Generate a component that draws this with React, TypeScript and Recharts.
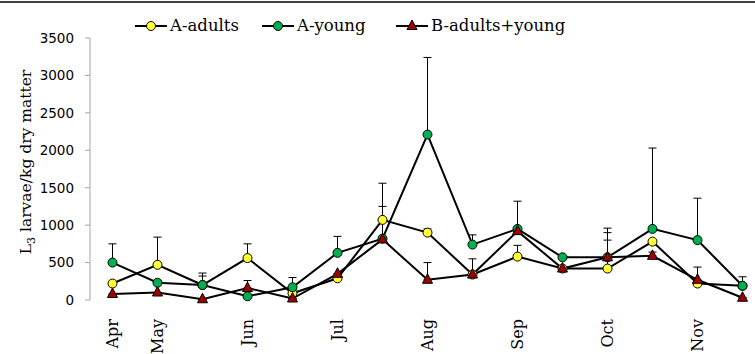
import { LineChart, Line, XAxis, YAxis, ErrorBar } from 'recharts';

const months = ['Apr', 'May', '', 'Jun', '', 'Jul', '', 'Aug', '', 'Sep', '', 'Oct', '', 'Nov', ''];
const aAdults = [220, 470, 200, 560, 90, 290, 1070, 900, 340, 580, 420, 420, 780, 220, 190];
const aYoung = [500, 230, 200, 50, 170, 630, 820, 2210, 740, 950, 570, 570, 950, 800, 190];
const bAll = [80, 100, 10, 160, 20, 350, 810, 270, 340, 920, 420, 570, 590, 270, 30];
const aAdultsErr = [0, 370, 160, 190, 0, 0, 490, 50, 0, 150, 0, 380, 0, 0, 0];
const aYoungErr = [250, 0, 120, 0, 130, 220, 0, 1030, 130, 370, 0, 390, 1080, 560, 120];
const bAllErr = [0, 0, 0, 100, 0, 0, 440, 230, 210, 0, 0, 330, 50, 170, 0];
const yTicks = [0, 500, 1000, 1500, 2000, 2500, 3000, 3500];

const data = months.map((m, i) => ({
  idx: i,
  month: m,
  aAdults: aAdults[i],
  aYoung: aYoung[i],
  bAll: bAll[i],
  aAdultsErr: [0, aAdultsErr[i]],
  aYoungErr: [0, aYoungErr[i]],
  bAllErr: [0, bAllErr[i]],
}));

const boundaryTicks = months.slice(1).map((_, i) => i + 0.5);
const labelTicks = months.map((m, i) => (m ? i : -1)).filter((i) => i >= 0);

const serif = '"DejaVu Serif", serif';
const sans = '"DejaVu Sans", sans-serif';
const YELLOW = '#ffff33';
const GREEN = '#00b050';
const RED = '#a00000';
const AXIS = '#a6a6a6';

const Circle = (fill: string) => (props: any) => {
  const { cx, cy } = props;
  if (cx == null || cy == null) return <g />;
  return <circle cx={cx} cy={cy} r={4.5} fill={fill} stroke="#000" strokeWidth={1} />;
};

const Triangle = (props: any) => {
  const { cx, cy } = props;
  if (cx == null || cy == null) return <g />;
  return (
    <path
      d={`M${cx},${cy - 6} L${cx + 5},${cy + 3.5} L${cx - 5},${cy + 3.5} Z`}
      fill={RED}
      stroke="#000"
      strokeWidth={1}
    />
  );
};

const MonthTick = (props: any) => {
  const { x, y, payload } = props;
  return (
    <text
      transform={`translate(${x},${y + 11}) rotate(-90)`}
      textAnchor="end"
      dy="0.35em"
      fontFamily={serif}
      fontSize={16}
      fill="#000"
    >
      {months[payload.value]}
    </text>
  );
};

const YTitle = () => (
  <text transform="translate(31,162) rotate(-90)" textAnchor="middle" fontFamily={serif} fontSize={15.5} fill="#000">
    L<tspan fontSize={11} dy={4}>3</tspan>
    <tspan dy={-4}> larvae/kg dry matter</tspan>
  </text>
);

const legendItems = [
  { name: 'A-adults', marker: 'circle', fill: YELLOW, width: 127 },
  { name: 'A-young', marker: 'circle', fill: GREEN, width: 134 },
  { name: 'B-adults+young', marker: 'tri', fill: RED, width: 180 },
];

const LegendBox = () => (
  <div
    style={{
      position: 'absolute',
      left: 135,
      top: 16,
      display: 'flex',
      alignItems: 'center',
      fontFamily: serif,
      fontSize: 16.5,
      color: '#000',
    }}
  >
    {legendItems.map((it) => (
      <div key={it.name} style={{ display: 'flex', alignItems: 'center', width: it.width }}>
        <svg width={32} height={14}>
          <line x1={0} y1={7} x2={32} y2={7} stroke="#000" strokeWidth={2} />
          {it.marker === 'circle' ? (
            <circle cx={16} cy={7} r={4.5} fill={it.fill} stroke="#000" />
          ) : (
            <path d="M16,1 L21,10.5 L11,10.5 Z" fill={it.fill} stroke="#000" />
          )}
        </svg>
        <span style={{ marginLeft: 3, whiteSpace: 'nowrap' }}>{it.name}</span>
      </div>
    ))}
  </div>
);

export default function App() {
  return (
    <div style={{ position: 'absolute', left: 0, top: 0, width: 755, height: 354, overflow: 'hidden', background: '#fff' }}>
      <div style={{ position: 'absolute', left: 0, top: 1, width: 755, height: 2, background: '#404040' }} />
      <LineChart width={780} height={354} data={data} margin={{ top: 38, right: 15, bottom: 0, left: 0 }}>
        <XAxis
          xAxisId="main"
          dataKey="idx"
          type="number"
          domain={[-0.5, 14.5]}
          ticks={boundaryTicks}
          tick={() => <g />}
          tickSize={5}
          axisLine={{ stroke: AXIS }}
          tickLine={{ stroke: AXIS }}
          height={0}
        />
        <XAxis
          xAxisId="lbl"
          dataKey="idx"
          type="number"
          domain={[-0.5, 14.5]}
          ticks={labelTicks}
          tick={<MonthTick />}
          axisLine={false}
          tickLine={false}
          height={54}
        />
        <YAxis
          domain={[0, 3500]}
          ticks={yTicks}
          width={90}
          tickSize={5}
          tickMargin={11}
          axisLine={{ stroke: AXIS }}
          tickLine={{ stroke: AXIS }}
          tick={{ fontFamily: sans, fontSize: 13.5, fill: '#000' }}
          label={{ content: () => <YTitle /> }}
        />
        <Line
          xAxisId="lbl"
          dataKey="bAll"
          stroke="none"
          dot={false}
          activeDot={false}
          legendType="none"
          isAnimationActive={false}
        />
        <Line
          xAxisId="main"
          dataKey="aAdults"
          stroke="#000"
          strokeWidth={2}
          dot={Circle(YELLOW)}
          isAnimationActive={false}
        >
          <ErrorBar dataKey="aAdultsErr" direction="y" width={4} stroke="#000" strokeWidth={1} />
        </Line>
        <Line
          xAxisId="main"
          dataKey="aYoung"
          stroke="#000"
          strokeWidth={2}
          dot={Circle(GREEN)}
          isAnimationActive={false}
        >
          <ErrorBar dataKey="aYoungErr" direction="y" width={4} stroke="#000" strokeWidth={1} />
        </Line>
        <Line
          xAxisId="main"
          dataKey="bAll"
          stroke="#000"
          strokeWidth={2}
          dot={Triangle}
          isAnimationActive={false}
        >
          <ErrorBar dataKey="bAllErr" direction="y" width={4} stroke="#000" strokeWidth={1} />
        </Line>
      </LineChart>
      <LegendBox />
    </div>
  );
}
